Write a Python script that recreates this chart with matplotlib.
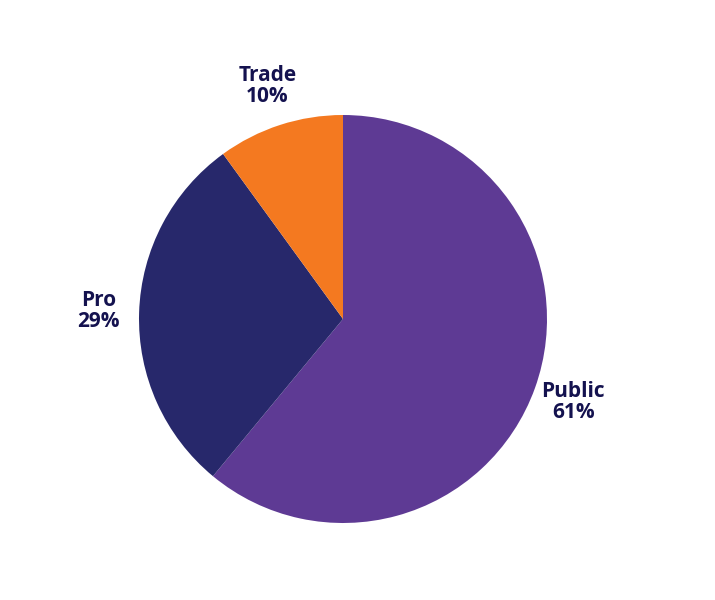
import matplotlib.pyplot as plt

labels = ["Public", "Pro", "Trade"]
shares = [61, 29, 10]
colors = ["#5e3a94", "#27286b", "#f47920"]

fig = plt.figure(figsize=(7.15, 6), dpi=100)
ax = fig.add_axes([139 / 715, 77 / 600, 408 / 715, 408 / 600])

wedges, texts = ax.pie(shares, colors=colors, startangle=90, counterclock=False,
                       labels=[f"{l}\n{s}%" for l, s in zip(labels, shares)],
                       labeldistance=1.2,
                       textprops=dict(fontsize=15, fontweight="bold", color="#14124f",
                                      ha="center", va="center", linespacing=1.0,
                                      family="Open Sans"))
ax.set_xlim(-1, 1)
ax.set_ylim(-1, 1)
ax.set_aspect("equal")

fig.savefig("out.png", dpi=100, facecolor="white")
